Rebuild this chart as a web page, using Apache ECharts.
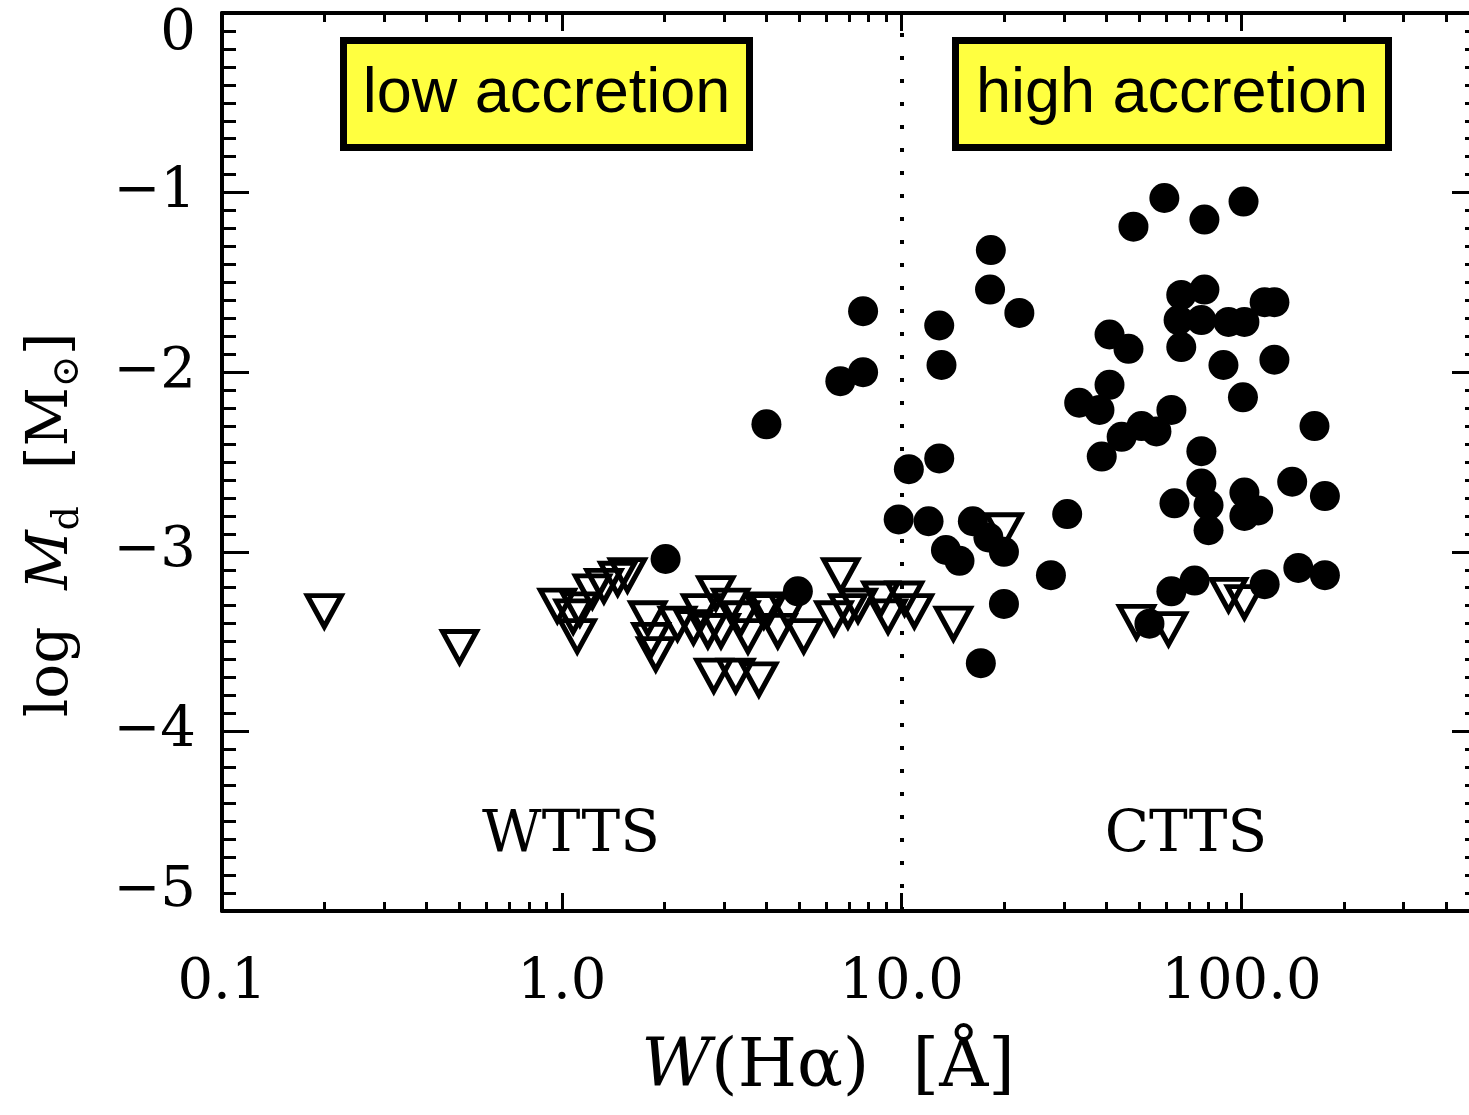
<!DOCTYPE html>
<html>
<head>
<meta charset="utf-8">
<script src="https://cdn.jsdelivr.net/npm/echarts@6/dist/echarts.min.js"></script>
<style>
  html, body { margin: 0; padding: 0; background: #ffffff; }
  #chart { width: 1469px; height: 1115px; }
</style>
</head>
<body>
<div id="chart"></div>
<script>
// Upper limits on disk mass (open triangles): H-alpha equivalent width [Angstrom], log Md [Msun]
const upperLimitW = [
  0.20, 0.50, 0.97, 1.08, 1.11, 1.13, 1.23, 1.33, 1.46, 1.56,
  1.79, 1.83, 1.89, 2.19, 2.44, 2.69, 2.84, 2.94, 3.36, 3.53,
  3.93, 4.32, 4.63, 2.80, 3.25, 3.80, 4.04, 5.15, 6.32, 6.95,
  7.44, 6.62, 8.69, 9.12, 10.2, 10.9, 3.14, 2.56, 14.2, 20.0,
  49.1, 61.0, 91.6, 102
];
const upperLimitLogMd = [
  -3.33, -3.53, -3.30, -3.36, -3.47, -3.32, -3.22, -3.19, -3.15, -3.13,
  -3.37, -3.49, -3.57, -3.40, -3.42, -3.44, -3.23, -3.44, -3.37, -3.47,
  -3.33, -3.44, -3.33, -3.69, -3.69, -3.71, -3.32, -3.47, -3.37, -3.33,
  -3.30, -3.13, -3.26, -3.36, -3.26, -3.33, -3.30, -3.33, -3.40, -2.88,
  -3.39, -3.43, -3.24, -3.28
];

// Disk mass detections (filled circles)
const detectionW = [
  2.02, 4.0, 6.6, 7.7, 7.7, 4.95, 9.8, 10.5, 12.9, 13.1,
  12.9, 12.0, 13.5, 14.8, 16.2, 18.3, 18.2, 22.2, 18.0, 20.0,
  20.0, 17.1, 27.5, 30.7, 33.3, 38.2, 40.9, 40.9, 46.5, 38.8,
  44.4, 50.8, 56.2, 62.2, 48.1, 59.3, 77.8, 101.4, 66.5, 77.8,
  65.3, 66.5, 76.2, 91.6, 102, 117, 125, 88.5, 125, 101,
  164, 76.2, 76.2, 63.5, 80, 80, 102, 102, 112, 141,
  176, 147, 176, 117, 72.8, 62.2, 53.6
];
const detectionLogMd = [
  -3.04, -2.29, -2.05, -2.00, -1.66, -3.22, -2.82, -2.54, -1.74, -1.96,
  -2.48, -2.83, -2.99, -3.05, -2.83, -1.32, -1.54, -1.67, -2.92, -3.00,
  -3.29, -3.62, -3.13, -2.79, -2.17, -2.21, -2.07, -1.79, -1.87, -2.47,
  -2.36, -2.30, -2.33, -2.21, -1.19, -1.03, -1.15, -1.05, -1.57, -1.54,
  -1.71, -1.86, -1.71, -1.72, -1.72, -1.61, -1.61, -1.96, -1.93, -2.14,
  -2.30, -2.44, -2.62, -2.73, -2.74, -2.88, -2.67, -2.80, -2.77, -2.61,
  -2.69, -3.09, -3.13, -3.18, -3.16, -3.22, -3.40
];

// Axis ranges and tick positions
const xMin = 0.1, xMax = 500;
const xMinorTicks = [
  0.2, 0.3, 0.4, 0.5, 0.6, 0.7, 0.8, 0.9,
  2, 3, 4, 5, 6, 7, 8, 9,
  20, 30, 40, 50, 60, 70, 80, 90,
  200, 300, 400, 500
];
const yMin = -5, yMax = 0, yStep = 1;
const wttsCttsDivide = 10;

const SERIF = '"DejaVu Serif", "Liberation Serif", serif';
const SANS = '"Liberation Sans", Arial, sans-serif';
const INK = '#000000';

const chart = echarts.init(document.getElementById('chart'), null, { renderer: 'canvas' });

const isPow10 = v => {
  const l = Math.log10(v);
  return Math.abs(l - Math.round(l)) < 1e-6;
};

// Log-scaled axis carrying the data and the decade ticks
function decadeAxis(position, showLabels) {
  return {
    type: 'log', logBase: 10, min: xMin, max: xMax, position: position,
    axisLine: { show: true, onZero: false, lineStyle: { color: INK, width: 4 } },
    axisTick: { show: true, inside: true, length: 18, lineStyle: { color: INK, width: 3 } },
    axisLabel: {
      show: showLabels, margin: 44, color: INK, fontFamily: SERIF, fontSize: 56,
      formatter: v => isPow10(v) ? v.toFixed(1) : ''
    },
    splitLine: { show: false }, minorTick: { show: false }
  };
}

// Companion axis in log10 units used only for the 2..9 sub-decade ticks
function subDecadeAxis(position) {
  return {
    type: 'value', min: Math.log10(xMin), max: Math.log10(xMax), position: position,
    axisLine: { show: false, onZero: false },
    axisTick: {
      show: true, inside: true, length: 9, lineStyle: { color: INK, width: 3 },
      customValues: xMinorTicks.map(v => Math.log10(v))
    },
    axisLabel: { show: false },
    splitLine: { show: false }
  };
}

function massAxis(position, showLabels) {
  return {
    type: 'value', min: yMin, max: yMax, interval: yStep, position: position,
    axisLine: { show: true, onZero: false, lineStyle: { color: INK, width: 4 } },
    axisTick: { show: true, inside: true, length: 27, lineStyle: { color: INK, width: 3 } },
    minorTick: { show: true, splitNumber: 10, length: 14, lineStyle: { color: INK, width: 3 } },
    axisLabel: {
      show: showLabels, margin: 26, color: INK, fontFamily: SERIF, fontSize: 56,
      formatter: v => {
        const s = v < 0 ? '\u2212' + Math.abs(v) : String(v);
        if (v === yMax) return '{hi|' + s + '}';
        if (v === yMin) return '{lo|' + s + '}';
        return s;
      },
      rich: {
        hi: { fontFamily: SERIF, fontSize: 56, color: INK, padding: [42, 0, 0, 0] },
        lo: { fontFamily: SERIF, fontSize: 56, color: INK, padding: [0, 0, 40, 0] }
      }
    },
    splitLine: { show: false }, minorSplitLine: { show: false }
  };
}

const option = {
  backgroundColor: '#ffffff',
  animation: false,
  grid: {
    left: 222, top: 13, width: 1257, height: 898,
    containLabel: false, outerBoundsMode: 'none'
  },
  xAxis: [
    decadeAxis('bottom', true),
    decadeAxis('top', false),
    subDecadeAxis('bottom'),
    subDecadeAxis('top')
  ],
  yAxis: [
    massAxis('left', true),
    massAxis('right', false)
  ],
  series: [
    {
      name: 'upper limits',
      type: 'scatter',
      xAxisIndex: 0, yAxisIndex: 0,
      data: upperLimitW.map((w, i) => [w, upperLimitLogMd[i]]),
      symbol: 'triangle',
      symbolRotate: 180,
      symbolSize: [34, 31],
      itemStyle: { color: 'rgba(0,0,0,0)', borderColor: INK, borderWidth: 5, borderJoin: 'miter', opacity: 1 },
      silent: true,
      markLine: {
        silent: true,
        symbol: ['none', 'none'],
        label: { show: false },
        lineStyle: { color: INK, width: 4, type: [4, 19], cap: 'butt', opacity: 1 },
        data: [{ xAxis: wttsCttsDivide }]
      }
    },
    {
      name: 'detections',
      type: 'scatter',
      xAxisIndex: 0, yAxisIndex: 0,
      data: detectionW.map((w, i) => [w, detectionLogMd[i]]),
      symbol: 'circle',
      symbolSize: 30,
      itemStyle: { color: INK, opacity: 1 },
      silent: true
    }
  ],
  graphic: [
    {
      type: 'rect', silent: true,
      shape: { x: 343.5, y: 40.5, width: 406, height: 107 },
      style: { fill: '#ffff40', stroke: INK, lineWidth: 7 }
    },
    {
      type: 'text', silent: true, x: 546.5, y: 95,
      style: { text: 'low accretion', font: '63px ' + SANS, fill: INK, align: 'center', verticalAlign: 'middle' }
    },
    {
      type: 'rect', silent: true,
      shape: { x: 955.5, y: 40.5, width: 433, height: 107 },
      style: { fill: '#ffff40', stroke: INK, lineWidth: 7 }
    },
    {
      type: 'text', silent: true, x: 1172, y: 95,
      style: { text: 'high accretion', font: '63px ' + SANS, fill: INK, align: 'center', verticalAlign: 'middle' }
    },
    {
      type: 'text', silent: true, x: 571, y: 836,
      style: { text: 'WTTS', font: '58px ' + SERIF, fill: INK, align: 'center', verticalAlign: 'middle' }
    },
    {
      type: 'text', silent: true, x: 1186, y: 836,
      style: { text: 'CTTS', font: '58px ' + SERIF, fill: INK, align: 'center', verticalAlign: 'middle' }
    },
    {
      type: 'text', silent: true, x: 828, y: 1068,
      style: {
        text: '{it|W}(H\u03b1)  [\u00c5]',
        fontFamily: SERIF, fontSize: 68, fill: INK, align: 'center', verticalAlign: 'middle',
        rich: {
          it: { fontFamily: SERIF, fontSize: 68, fontStyle: 'italic', fill: INK }
        }
      }
    },
    {
      type: 'text', silent: true, x: 52, y: 525, rotation: Math.PI / 2,
      style: {
        text: 'log  {it|M}{sub|d}  [M{sub|\u2299}]',
        fontFamily: SERIF, fontSize: 58, fill: INK, align: 'center', verticalAlign: 'middle',
        rich: {
          it: { fontFamily: SERIF, fontSize: 58, fontStyle: 'italic', fill: INK, lineHeight: 70 },
          sub: { fontFamily: SERIF, fontSize: 38, fill: INK, verticalAlign: 'bottom', lineHeight: 40 }
        }
      }
    }
  ]
};

chart.setOption(option);
</script>
</body>
</html>
